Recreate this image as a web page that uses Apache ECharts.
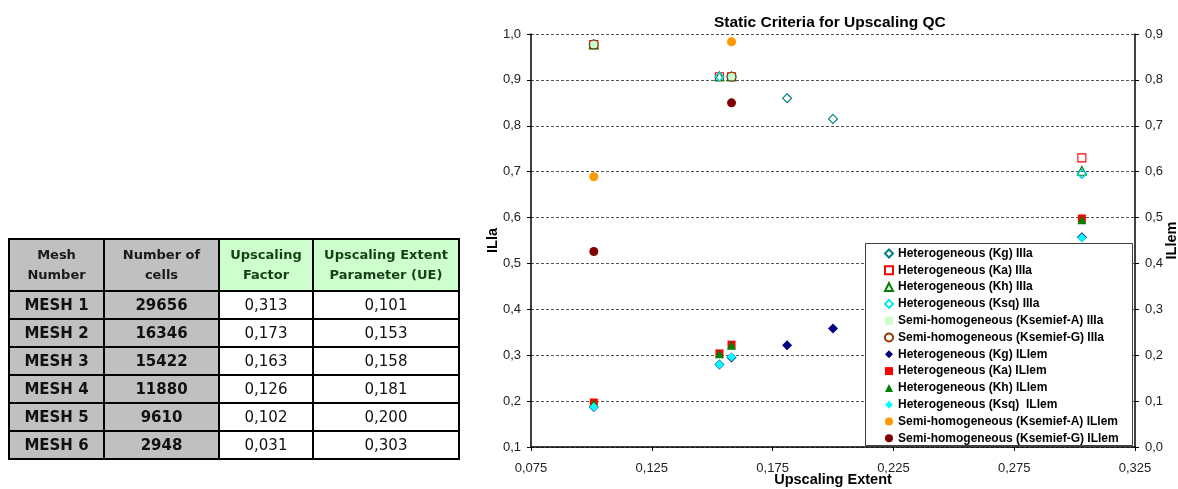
<!DOCTYPE html>
<html>
<head>
<meta charset="utf-8">
<script src="https://cdn.jsdelivr.net/npm/echarts@6/dist/echarts.min.js"></script>
<style>
html,body{margin:0;padding:0;background:#fff;}
#wrap{position:relative;width:1178px;height:489px;overflow:hidden;}
#chart{position:absolute;left:0;top:0;width:1178px;height:489px;}
#tbl{position:absolute;left:8px;top:238px;border-collapse:collapse;table-layout:fixed;width:450px;font-family:'DejaVu Sans',sans-serif;z-index:5;}
#tbl td,#tbl th{border:2px solid #000;text-align:center;padding:0;overflow:hidden;white-space:nowrap;}
#tbl th{height:50px;font-size:13px;font-weight:bold;line-height:20px;}
#tbl th.g{background:#c0c0c0;color:#1a1a1a;}
#tbl th.l{background:#ccffcc;color:#173f17;}
#tbl td{height:26px;font-size:15px;}
#tbl td.g{background:#c0c0c0;font-weight:bold;color:#111;}
#tbl td.w{background:#fff;color:#111;}
</style>
</head>
<body>
<div id="wrap">
<div id="chart"></div>
<table id="tbl"><colgroup><col style="width:95px"><col style="width:115px"><col style="width:94px"><col style="width:146px"></colgroup><thead><tr id="hdr"></tr></thead><tbody id="tb"></tbody></table>
</div>
<script>
// ---------- table data ----------
const tableHeaders = ['Mesh<br>Number', 'Number of<br>cells', 'Upscaling<br>Factor', 'Upscaling Extent<br>Parameter (UE)'];
const meshNames = ['MESH 1', 'MESH 2', 'MESH 3', 'MESH 4', 'MESH 5', 'MESH 6'];
const cellCounts = ['29656', '16346', '15422', '11880', '9610', '2948'];
const upscalingFactor = ['0,313', '0,173', '0,163', '0,126', '0,102', '0,031'];
const ueLabels = ['0,101', '0,153', '0,158', '0,181', '0,200', '0,303'];

// ---------- chart data ----------
const ue = [0.101, 0.153, 0.158, 0.181, 0.200, 0.303];
const xTicks = [0.075, 0.125, 0.175, 0.225, 0.275, 0.325];

// left axis (IIIa)
const kgIIIa   = [0.977, 0.907, 0.907, 0.860, 0.815, 0.696];
const kaIIIa   = [0.977, 0.907, 0.907, null, null, 0.730];
const khIIIa   = [0.977, 0.908, 0.908, null, null, 0.702];
const ksqIIIa  = [0.977, 0.907, 0.907, null, null, 0.695];
const semiAIIIa = [0.977, null, 0.907, null, null, null];
const semiGIIIa = [0.977, null, 0.907, null, null, null];

// right axis (ILlem)
const kgILlem   = [0.087, 0.180, 0.195, 0.222, 0.258, 0.457];
const kaILlem   = [0.097, 0.204, 0.223, null, null, 0.498];
const khILlem   = [0.095, 0.203, 0.222, null, null, 0.495];
const ksqILlem  = [0.087, 0.180, 0.196, null, null, 0.456];
const semiAILlem = [0.589, null, 0.883, null, null, null];
const semiGILlem = [0.426, null, 0.750, null, null, null];

// ---------- build table ----------
const hdr = document.getElementById('hdr');
tableHeaders.forEach((h, i) => {
  const th = document.createElement('th');
  th.className = i < 2 ? 'g' : 'l';
  th.innerHTML = h;
  hdr.appendChild(th);
});
const tb = document.getElementById('tb');
meshNames.forEach((m, i) => {
  const tr = document.createElement('tr');
  [[m, 'g'], [cellCounts[i], 'g'], [upscalingFactor[i], 'w'], [ueLabels[i], 'w']].forEach(([t, c]) => {
    const td = document.createElement('td');
    td.className = c; td.textContent = t; tr.appendChild(td);
  });
  tb.appendChild(tr);
});

// ---------- chart ----------
function pts(ys) {
  const out = [];
  ys.forEach((y, i) => { if (y !== null) out.push([ue[i], y]); });
  return out;
}
const HOLLOW = 'rgba(255,255,255,0)';
function hollow(name, data, symbol, color, size) {
  return { name, type: 'scatter', yAxisIndex: 0, data: pts(data), symbol, symbolSize: size,
    itemStyle: { color: HOLLOW, borderColor: color, borderWidth: 1.1, opacity: 1 } };
}
function filled(name, data, symbol, color, size, axis) {
  return { name, type: 'scatter', yAxisIndex: axis, data: pts(data), symbol, symbolSize: size,
    itemStyle: { color: color, opacity: 1 } };
}
const series = [
  hollow('Heterogeneous (Kg) IIIa', kgIIIa, 'diamond', '#008080', 9),
  hollow('Heterogeneous (Ka) IIIa', kaIIIa, 'rect', '#ff0000', 8),
  hollow('Heterogeneous (Kh) IIIa', khIIIa, 'triangle', '#008000', 9),
  hollow('Heterogeneous (Ksq) IIIa', ksqIIIa, 'diamond', '#00e5ff', 9),
  filled('Semi-homogeneous (Ksemief-A) IIIa', semiAIIIa, 'rect', '#ccffcc', 7, 0),
  hollow('Semi-homogeneous (Ksemief-G) IIIa', semiGIIIa, 'circle', '#993300', 9),
  filled('Heterogeneous (Kg) ILlem', kgILlem, 'diamond', '#000080', 10, 1),
  filled('Heterogeneous (Ka) ILlem', kaILlem, 'rect', '#ff0000', 8, 1),
  filled('Heterogeneous (Kh) ILlem', khILlem, 'triangle', '#008000', 9, 1),
  filled('Heterogeneous (Ksq)  ILlem', ksqILlem, 'diamond', '#00ffff', 9, 1),
  filled('Semi-homogeneous (Ksemief-A) ILlem', semiAILlem, 'circle', '#ff9900', 9, 1),
  filled('Semi-homogeneous (Ksemief-G) ILlem', semiGILlem, 'circle', '#800000', 9, 1)
];

const FONT = "'Liberation Sans', Arial, sans-serif";
const chart = echarts.init(document.getElementById('chart'), null, { renderer: 'canvas' });
const fmt1 = v => v.toFixed(1).replace('.', ',');
const nameStyle = { fontFamily: FONT, fontSize: 14.5, fontWeight: 'bold', color: '#000' };
const option = {
  animation: false,
  backgroundColor: '#fff',
  textStyle: { fontFamily: FONT },
  title: {
    text: 'Static Criteria for Upscaling QC', left: 714, top: 15, padding: 0,
    textStyle: { fontFamily: FONT, fontSize: 15.5, fontWeight: 'bold', color: '#000' }
  },
  grid: { left: 531, right: 43, top: 34, bottom: 42, containLabel: false, outerBoundsMode: 'none' },
  xAxis: {
    type: 'value', min: 0.075, max: 0.325, interval: 0.025,
    name: 'Upscaling Extent', nameLocation: 'middle', nameGap: 25, nameMoveOverlap: false,
    nameTextStyle: nameStyle,
    axisLine: { show: true, onZero: false, lineStyle: { color: '#000', width: 1.5 } },
    axisTick: { show: true, length: 4, customValues: xTicks, lineStyle: { color: '#000' } },
    axisLabel: { customValues: xTicks, margin: 15, fontFamily: FONT, fontSize: 13, color: '#222',
      formatter: v => v.toFixed(3).replace('.', ',') },
    splitLine: { show: false }
  },
  yAxis: [
    {
      type: 'value', min: 0.1, max: 1.0, interval: 0.1, position: 'left',
      name: 'ILla', nameLocation: 'middle', nameGap: 31, nameRotate: 90, nameMoveOverlap: false,
      nameTextStyle: nameStyle,
      axisLine: { show: true, lineStyle: { color: '#000', width: 1.5 } },
      axisTick: { show: true, length: 4, lineStyle: { color: '#000' } },
      axisLabel: { margin: 10, fontFamily: FONT, fontSize: 13, color: '#222', formatter: fmt1 },
      splitLine: { show: true, lineStyle: { color: '#555', width: 1, type: [3, 2] } }
    },
    {
      type: 'value', min: 0.0, max: 0.9, interval: 0.1, position: 'right',
      name: 'ILlem', nameLocation: 'middle', nameGap: 29, nameRotate: 90, nameMoveOverlap: false,
      nameTextStyle: nameStyle,
      axisLine: { show: true, lineStyle: { color: '#000', width: 1.5 } },
      axisTick: { show: true, length: 4, lineStyle: { color: '#000' } },
      axisLabel: { margin: 10, fontFamily: FONT, fontSize: 13, color: '#222', formatter: fmt1 },
      splitLine: { show: false }
    }
  ],
  legend: {
    orient: 'vertical', left: 884, top: 247.5, padding: 0,
    itemWidth: 8, itemHeight: 8, itemGap: 4.8, z: 6,
    textStyle: { fontFamily: FONT, fontSize: 12, fontWeight: 'bold', color: '#000' },
    data: series.map(s => s.name)
  },
  graphic: [{
    type: 'rect', z: 5, shape: { x: 865.5, y: 243.5, width: 267, height: 202 },
    style: { fill: '#fff', stroke: '#404040', lineWidth: 1 }
  }],
  series
};
chart.setOption(option);
</script>
</body>
</html>
